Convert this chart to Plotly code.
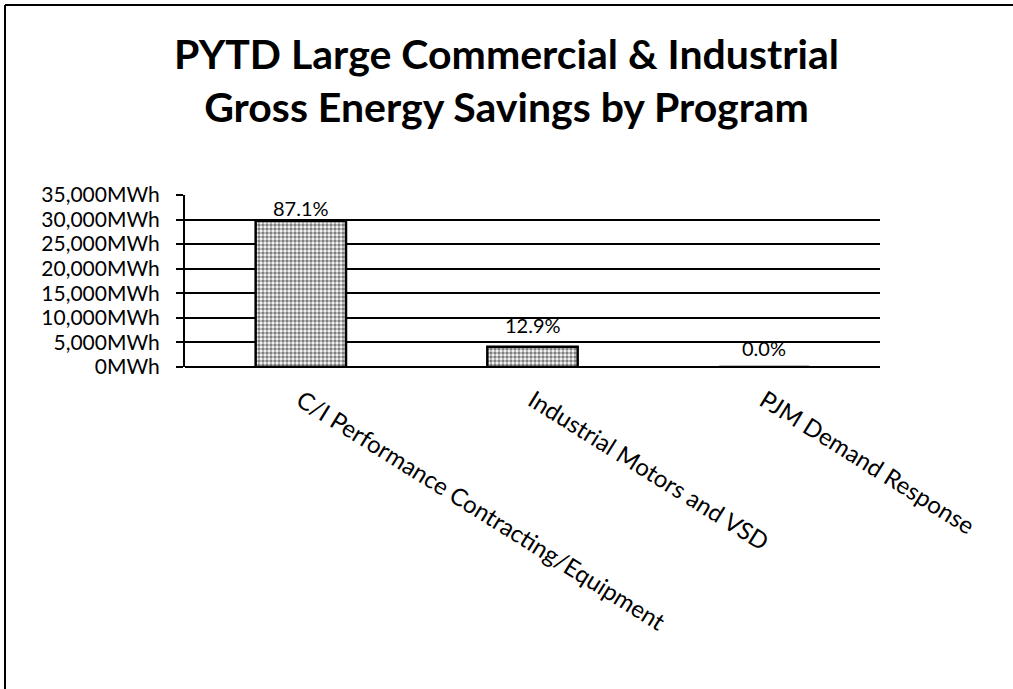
import plotly.graph_objects as go

# ---- data ----
programs = ["C/I Performance Contracting/Equipment", "Industrial Motors and VSD", "PJM Demand Response"]
savings_mwh = [29700, 4100, 0]
share_labels = ["87.1%", "12.9%", "0.0%"]
label_shift_px = [13, 22, 19]
title_text = "PYTD Large Commercial & Industrial<br>Gross Energy Savings by Program"

W, H = 1013, 689
ML, MR, MT, MB = 185, 133, 195, 322
FONT = "Lato, 'Open Sans', sans-serif"

fig = go.Figure()
fig.add_trace(go.Bar(
    x=programs, y=savings_mwh,
    marker=dict(color="white",
                line=dict(color="black", width=2.5),
                pattern=dict(shape=".", fgcolor="black", bgcolor="white",
                             size=4, solidity=0.6, fillmode="overlay")),
    width=0.39, showlegend=False,
))

for p, v, t, s in zip(programs, savings_mwh, share_labels, label_shift_px):
    fig.add_annotation(x=p, y=v, text=t, showarrow=False, yanchor="middle",
                       yshift=s, font=dict(family=FONT, size=20, color="black"))

pw = W - ML - MR
ph = H - MT - MB
def px2paper_x(px):
    return (px - ML) / pw
def px2paper_y(py):
    return (H - MB - py) / ph

# chart frame (left and top edges of the scanned chart border)
fig.add_shape(type="line", xref="paper", yref="paper",
              x0=px2paper_x(5), x1=px2paper_x(5), y0=px2paper_y(689), y1=px2paper_y(5),
              line=dict(color="black", width=2))
fig.add_shape(type="line", xref="paper", yref="paper",
              x0=px2paper_x(5), x1=px2paper_x(1013), y0=px2paper_y(5), y1=px2paper_y(5),
              line=dict(color="black", width=2))

fig.update_layout(
    width=W, height=H,
    margin=dict(l=ML, r=MR, t=MT, b=MB, autoexpand=False),
    paper_bgcolor="white", plot_bgcolor="white",
    title=dict(text=title_text, x=0.5, xanchor="center", xref="container",
               y=1 - 69 / H, yanchor="middle",
               font=dict(family=FONT, size=41, color="black", weight="bold")),
    font=dict(family=FONT, color="black"),
)

fig.update_yaxes(range=[0, 35000], dtick=5000, tickformat=",d", ticksuffix="MWh",
                 showgrid=True, gridcolor="black", gridwidth=2,
                 showline=True, linecolor="black", linewidth=2,
                 ticks="outside", ticklen=7, tickcolor="black", tickwidth=2,
                 zeroline=True, zerolinecolor="black", zerolinewidth=2,
                 ticklabelstandoff=12,
                 tickfont=dict(family=FONT, size=21, color="black"))
fig.update_xaxes(tickangle=32, showgrid=False, showline=False, ticks="",
                 ticklabelstandoff=14,
                 tickfont=dict(family=FONT, size=24, color="black"))

fig.write_html("out.html", config={"displayModeBar": False},
               post_script="document.body.style.margin='0';")
